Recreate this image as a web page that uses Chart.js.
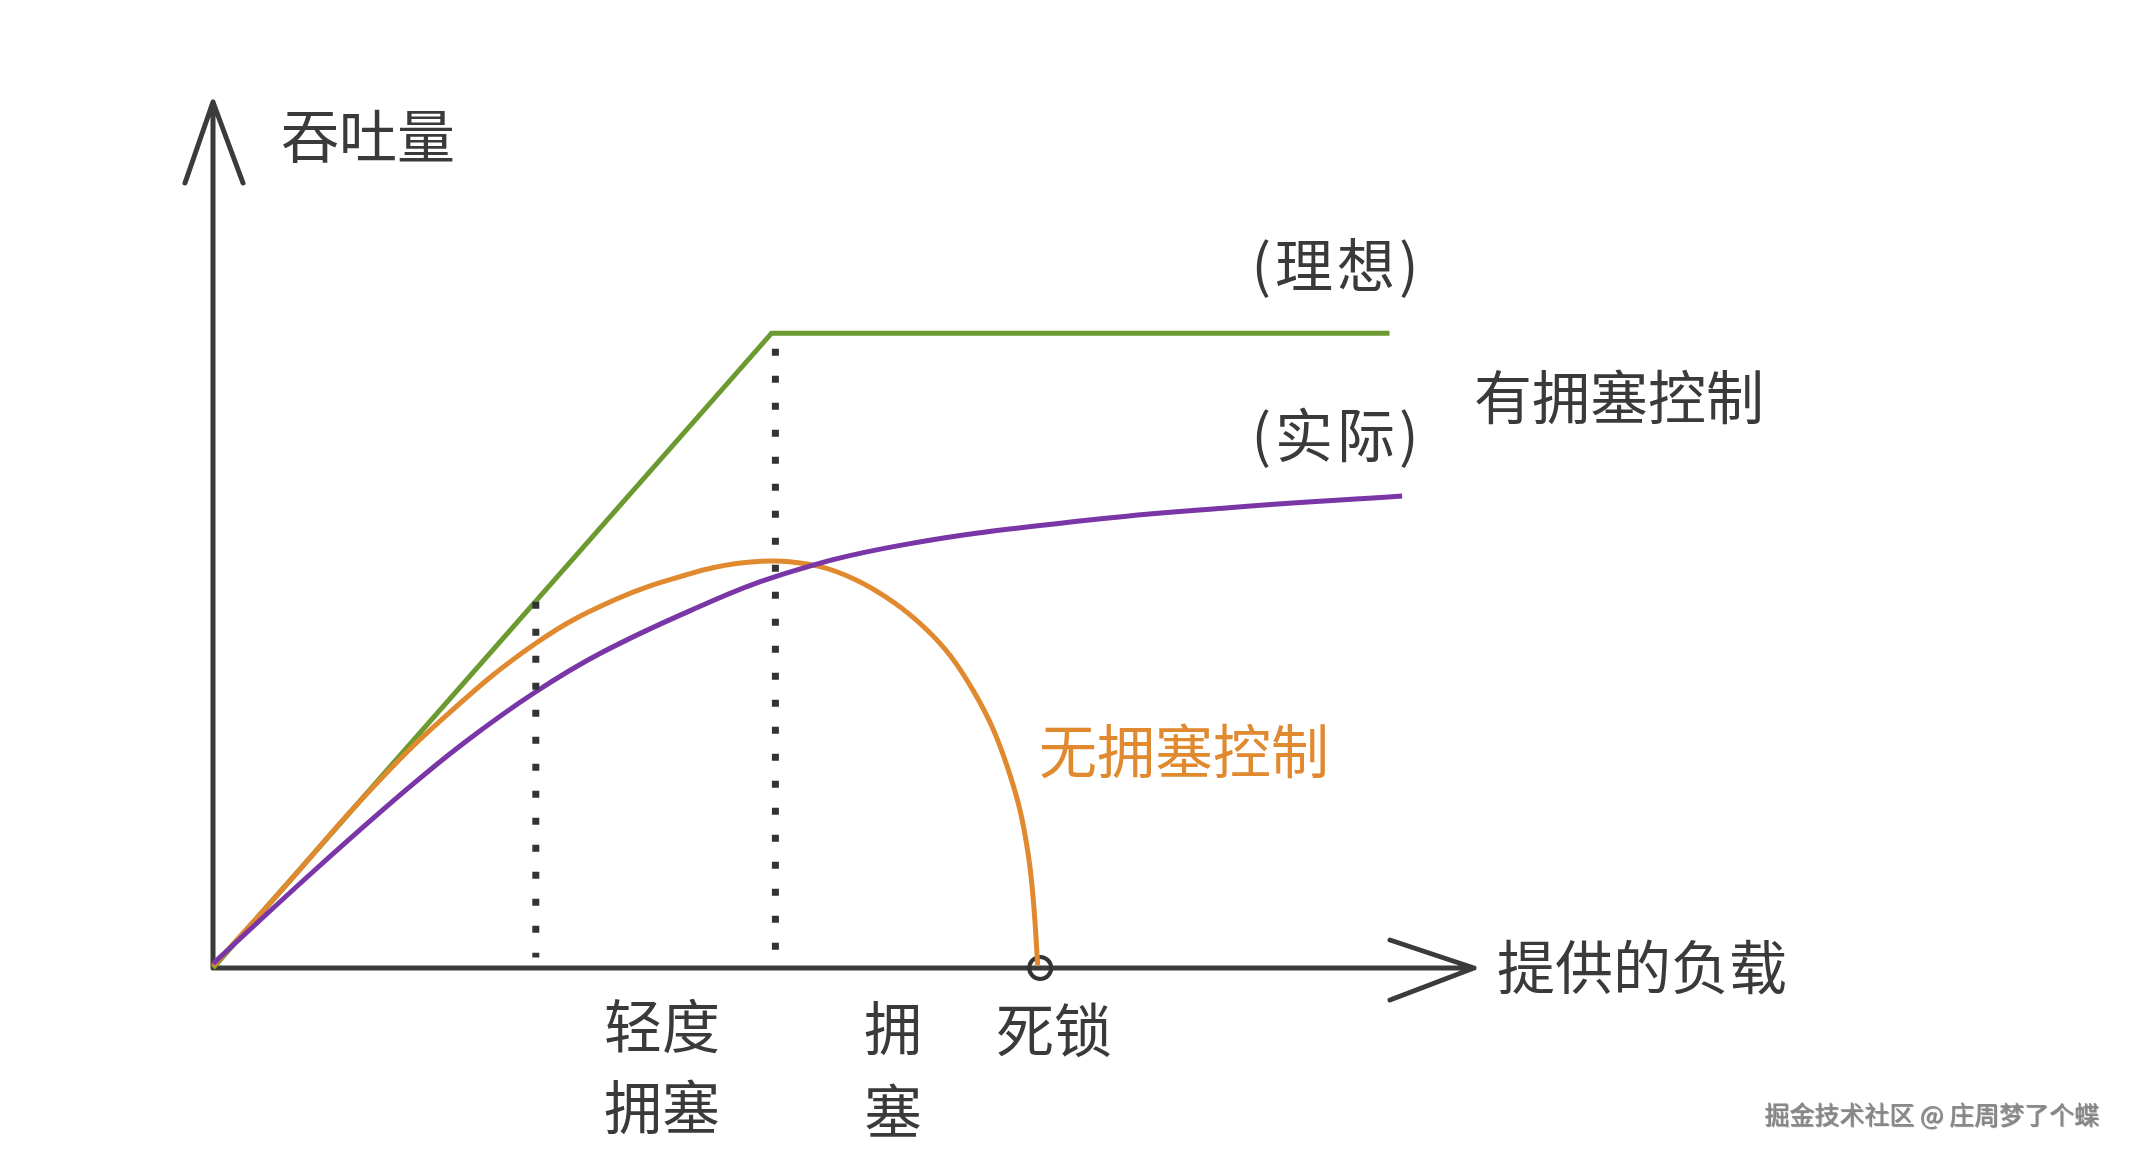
<!DOCTYPE html>
<html lang="zh">
<head>
<meta charset="UTF-8" />
<title>拥塞控制 吞吐量</title>
<script src="https://cdn.jsdelivr.net/npm/chart.js"></script>
<style>
  html, body { margin: 0; padding: 0; background: #fff; }
  .wrap { width: 2130px; height: 1158px; position: relative; }
</style>
</head>
<body>
<div class="wrap"><canvas id="chart"></canvas></div>
<script>
// offered load (x) vs throughput (y), arbitrary units 0..100
const idealX = [0, 44.3, 93.3];
const idealY = [0, 73.3, 73.3];

const actualX = [0, 8, 15.1, 20, 25.6, 30.8, 37.9, 44.6, 54.5, 69.3, 80.1, 94.3];
const actualY = [0.5, 11.2, 20.3, 26.1, 31.9, 36.4, 41.3, 45.2, 48.8, 51.7, 53.1, 54.5];

const noCtrlX = [0, 6, 12, 18, 25.6, 32, 38, 41.5, 44.6, 48, 51, 54, 56.5, 58.5, 60.3, 61.8, 63, 64, 64.7, 65.1, 65.4];
const noCtrlY = [0.2, 9.9, 19.8, 28.5, 37.5, 42.6, 45.6, 46.7, 47.0, 46.4, 44.8, 42.2, 39.2, 36.0, 32.0, 27.8, 23.2, 18.2, 12.6, 7.0, 0.3];

const lightX = 25.6, lightTop = 42.3;
const congX = 44.6, congTop = 71.5;
const dotBottom = 1.2;
const deadlockX = 65.6;

const TXT = "#3a3a3a";
const ORANGE = "#e0892e";
const FONT = '"Noto Sans CJK SC", "Noto Sans", sans-serif';

const pts = (xs, ys) => xs.map((x, i) => ({ x, y: ys[i] }));

const labels = [
  { text: "吞吐量", x: 281, y: 136, align: "left" },
  { text: "(理想)", x: 1337, y: 265, align: "center", spacing: "4px" },
  { text: "有拥塞控制", x: 1474, y: 397, align: "left" },
  { text: "(实际)", x: 1337, y: 435, align: "center", spacing: "4px" },
  { text: "无拥塞控制", x: 1039, y: 751, align: "left", color: ORANGE },
  { text: "提供的负载", x: 1497, y: 967, align: "left" },
  { text: "轻度", x: 604, y: 1026, align: "left" },
  { text: "拥塞", x: 604, y: 1107, align: "left" },
  { text: "拥", x: 864, y: 1028, align: "left" },
  { text: "塞", x: 864, y: 1111, align: "left" },
  { text: "死锁", x: 996, y: 1030, align: "left" }
];

const axesPlugin = {
  id: "axes",
  beforeDatasetsDraw(chart) {
    const { ctx, scales: { x, y } } = chart;
    const x0 = x.getPixelForValue(0), y0 = y.getPixelForValue(0);
    const xEnd = x.getPixelForValue(100), yEnd = y.getPixelForValue(100);
    ctx.save();
    ctx.strokeStyle = "#3b3b3b";
    ctx.lineWidth = 5;
    ctx.lineCap = "round";
    ctx.lineJoin = "round";
    ctx.beginPath();
    ctx.moveTo(x0, y0); ctx.lineTo(x0, yEnd);
    ctx.moveTo(x0, y0); ctx.lineTo(xEnd, y0);
    // arrow heads
    ctx.moveTo(x0 - 28, yEnd + 81); ctx.lineTo(x0, yEnd); ctx.lineTo(x0 + 30, yEnd + 81);
    ctx.moveTo(xEnd - 84, y0 - 28); ctx.lineTo(xEnd, y0); ctx.lineTo(xEnd - 84, y0 + 32);
    ctx.stroke();
    ctx.restore();
  },
  afterDraw(chart) {
    const { ctx } = chart;
    ctx.save();
    ctx.font = "58px " + FONT;
    ctx.textBaseline = "middle";
    labels.forEach(l => {
      ctx.fillStyle = l.color || TXT;
      ctx.textAlign = l.align;
      ctx.letterSpacing = l.spacing || "0px";
      ctx.fillText(l.text, l.x, l.y);
    });
    ctx.letterSpacing = "0px";
    // watermark
    ctx.font = "25px " + FONT;
    ctx.textAlign = "right";
    ctx.fillStyle = "#8a8a8a";
    ctx.shadowColor = "rgba(0,0,0,0.55)";
    ctx.shadowOffsetX = 1;
    ctx.shadowOffsetY = 1;
    ctx.shadowBlur = 1;
    ctx.fillText("掘金技术社区 @ 庄周梦了个蝶", 2099, 1114);
    ctx.restore();
  }
};

new Chart(document.getElementById("chart"), {
  type: "scatter",
  data: {
    datasets: [
      {
        label: "轻度拥塞",
        data: pts([lightX, lightX], [lightTop, dotBottom]),
        showLine: true, borderColor: "#333", borderWidth: 7,
        borderDash: [7, 20], borderCapStyle: "butt", pointRadius: 0
      },
      {
        label: "拥塞",
        data: pts([congX, congX], [congTop, dotBottom]),
        showLine: true, borderColor: "#333", borderWidth: 7,
        borderDash: [7, 20], borderCapStyle: "butt", pointRadius: 0
      },
      {
        label: "实际",
        data: pts(actualX, actualY),
        showLine: true, borderColor: "#7a35a6", borderWidth: 5,
        tension: 0.4, pointRadius: 0, clip: false
      },
      {
        label: "无拥塞控制",
        data: pts(noCtrlX, noCtrlY),
        showLine: true, borderColor: ORANGE, borderWidth: 5,
        tension: 0.4, pointRadius: 0, clip: false
      },
      {
        label: "理想",
        data: pts(idealX, idealY),
        showLine: true, borderColor: "#6b9a30", borderWidth: 5,
        pointRadius: 0, clip: false
      },
      {
        label: "死锁",
        data: [{ x: deadlockX, y: 0 }],
        pointRadius: 11, pointBorderWidth: 4, clip: false,
        pointBorderColor: "#333", pointBackgroundColor: "rgba(0,0,0,0)"
      }
    ]
  },
  options: {
    responsive: true,
    maintainAspectRatio: false,
    animation: false,
    layout: { padding: { left: 213, right: 656, top: 102, bottom: 190 } },
    plugins: { legend: { display: false }, tooltip: { enabled: false } },
    scales: {
      x: { type: "linear", min: 0, max: 100, display: false },
      y: { type: "linear", min: 0, max: 100, display: false }
    }
  },
  plugins: [axesPlugin]
});
</script>
</body>
</html>
